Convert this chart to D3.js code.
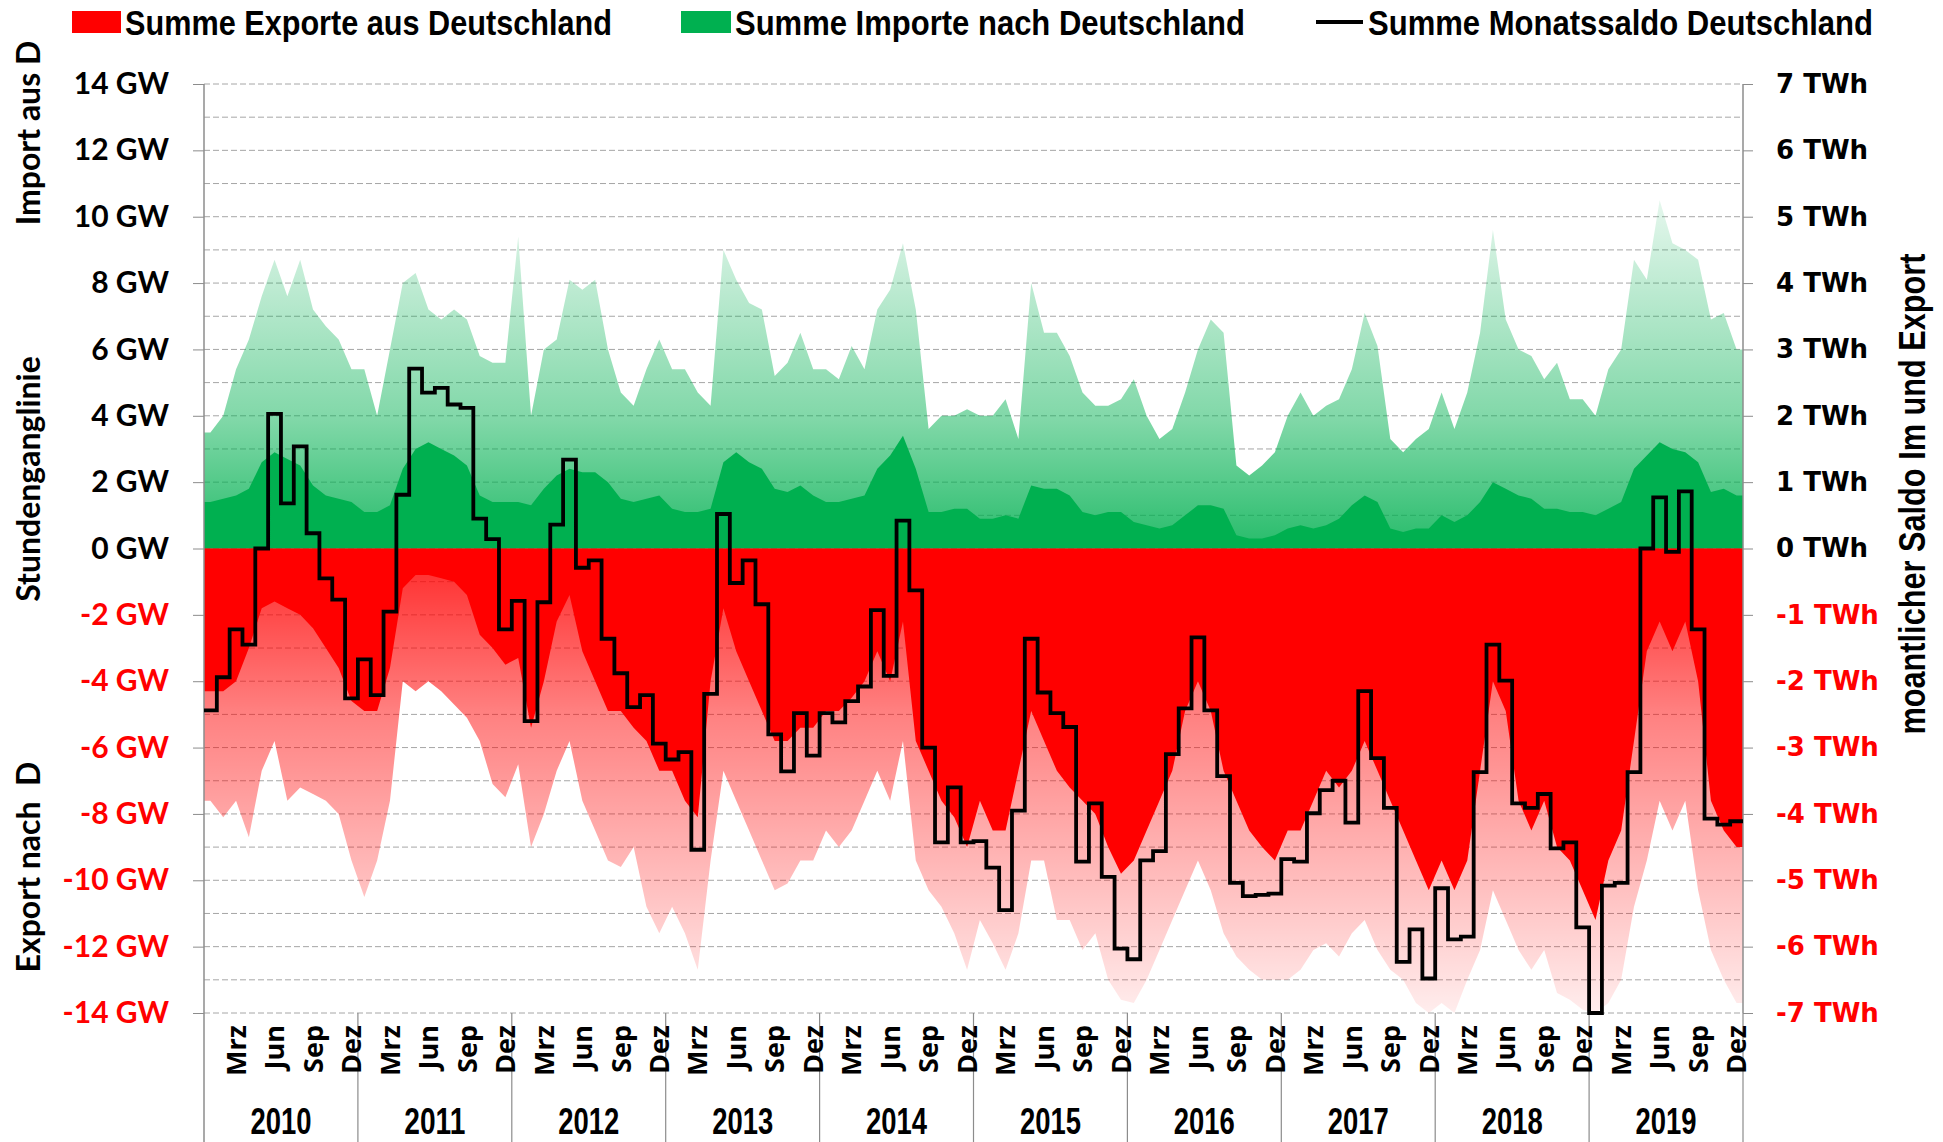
<!DOCTYPE html>
<html>
<head>
<meta charset="utf-8">
<script src="https://cdn.jsdelivr.net/npm/d3@7"></script>
<style>
body { margin: 0; background: #fff; }
svg { display: block; }
</style>
</head>
<body>
<div id="chart"></div>
<script>
// ---- data ----
const years = [2010, 2011, 2012, 2013, 2014, 2015, 2016, 2017, 2018, 2019];
const monthTickIndex = [2, 5, 8, 11];
const monthTickLabels = ['Mrz', 'Jun', 'Sep', 'Dez'];
const gwTicks = [-14, -12, -10, -8, -6, -4, -2, 0, 2, 4, 6, 8, 10, 12, 14];
const twhTicks = [-7, -6, -5, -4, -3, -2, -1, 0, 1, 2, 3, 4, 5, 6, 7];

// monthly saldo in TWh (Jan 2010 .. Dez 2019)
const saldo = [
  -2.44, -1.94, -1.22, -1.45, 0.0, 2.03, 0.68, 1.54, 0.23, -0.45, -0.77, -2.26,
  -1.67, -2.21, -0.95, 0.81, 2.71, 2.35, 2.42, 2.17, 2.12, 0.45, 0.14, -1.22,
  -0.79, -2.6, -0.81, 0.36, 1.34, -0.29, -0.18, -1.36, -1.88, -2.39, -2.21, -2.94,
  -3.18, -3.07, -4.54, -2.19, 0.52, -0.52, -0.18, -0.84, -2.8, -3.36, -2.48, -3.12,
  -2.48, -2.62, -2.3, -2.08, -0.93, -1.92, 0.42, -0.63, -3.0, -4.43, -3.6, -4.43,
  -4.41, -4.81, -5.45, -3.95, -1.36, -2.17, -2.48, -2.69, -4.72, -3.84, -4.95, -6.03,
  -6.19, -4.7, -4.56, -3.1, -2.41, -1.34, -2.44, -3.43, -5.04, -5.24, -5.22, -5.2,
  -4.68, -4.72, -3.99, -3.64, -3.5, -4.13, -2.15, -3.16, -3.91, -6.23, -5.74, -6.48,
  -5.12, -5.89, -5.85, -3.37, -1.45, -1.99, -3.84, -3.91, -3.7, -4.52, -4.43, -5.71,
  -7.0, -5.08, -5.04, -3.37, 0.0, 0.77, -0.05, 0.86, -1.22, -4.07, -4.16, -4.11
];

// hourly import, dense level per month (GW)
const importCore = [
  1.4, 1.5, 1.6, 1.8, 2.6, 2.9, 2.7, 2.5, 1.9, 1.6, 1.5, 1.4,
  1.1, 1.1, 1.3, 2.4, 3.0, 3.2, 3.0, 2.8, 2.5, 1.6, 1.4, 1.4,
  1.4, 1.3, 1.8, 2.2, 2.4, 2.3, 2.3, 2.0, 1.5, 1.4, 1.5, 1.6,
  1.2, 1.1, 1.1, 1.2, 2.6, 2.9, 2.6, 2.4, 1.8, 1.7, 1.9, 1.6,
  1.4, 1.4, 1.5, 1.6, 2.4, 2.8, 3.4, 2.4, 1.1, 1.1, 1.2, 1.2,
  0.9, 0.9, 1.0, 0.9, 1.9, 1.8, 1.8, 1.6, 1.1, 1.0, 1.1, 1.1,
  0.8, 0.7, 0.6, 0.7, 1.0, 1.3, 1.3, 1.2, 0.4, 0.3, 0.3, 0.4,
  0.6, 0.7, 0.6, 0.7, 0.9, 1.3, 1.6, 1.4, 0.6, 0.5, 0.6, 0.6,
  1.0, 0.8, 1.0, 1.4, 2.0, 1.8, 1.6, 1.5, 1.2, 1.2, 1.1, 1.1,
  1.0, 1.2, 1.4, 2.4, 2.8, 3.2, 3.0, 2.9, 2.6, 1.7, 1.8, 1.6
];
// hourly import, highest spikes per month (GW)
const importPeak = [
  3.5, 4.0, 5.4, 6.3, 7.6, 8.7, 7.6, 8.7, 7.2, 6.7, 6.3, 5.4,
  5.4, 4.0, 6.0, 8.0, 8.3, 7.2, 6.9, 7.2, 6.9, 5.8, 5.6, 5.6,
  9.4, 4.0, 6.0, 6.3, 8.1, 7.8, 8.1, 6.0, 4.7, 4.3, 5.4, 6.3,
  5.4, 5.4, 4.7, 4.3, 9.0, 8.1, 7.4, 7.2, 5.2, 5.6, 6.5, 5.4,
  5.4, 5.1, 6.1, 5.4, 7.2, 7.8, 9.2, 7.2, 3.6, 4.0, 4.0, 4.2,
  4.0, 4.0, 4.5, 3.3, 8.0, 6.5, 6.5, 5.8, 4.7, 4.3, 4.3, 4.5,
  5.1, 4.0, 3.3, 3.6, 4.7, 6.0, 6.9, 6.5, 2.5, 2.2, 2.5, 2.9,
  4.0, 4.7, 4.0, 4.3, 4.5, 5.4, 7.1, 6.1, 3.3, 2.9, 3.3, 3.6,
  4.7, 3.6, 4.7, 6.5, 9.6, 6.9, 6.0, 5.8, 5.1, 5.6, 4.5, 4.5,
  4.0, 5.4, 6.0, 8.7, 8.1, 10.5, 9.2, 9.0, 8.7, 6.9, 7.1, 6.0
];
// hourly export, dense level per month (GW)
const exportCore = [
  -4.3, -4.3, -4.0, -3.0, -1.8, -1.6, -1.8, -2.0, -2.4, -3.0, -3.6, -4.6,
  -4.9, -4.9, -3.6, -1.2, -0.8, -0.8, -0.9, -1.0, -1.4, -2.6, -3.0, -3.5,
  -3.3, -5.4, -4.0, -2.2, -1.4, -3.1, -4.0, -4.9, -4.9, -5.4, -5.8, -6.7,
  -6.7, -7.6, -8.1, -4.0, -1.8, -3.1, -4.0, -4.9, -5.8, -5.8, -5.4, -5.4,
  -4.9, -4.9, -4.5, -4.0, -3.1, -4.0, -2.2, -5.8, -6.7, -7.6, -8.1, -9.0,
  -7.6, -8.5, -8.5, -6.7, -4.9, -5.8, -6.7, -7.2, -7.6, -8.0, -9.0, -9.8,
  -9.4, -8.5, -7.6, -6.7, -4.9, -4.0, -4.9, -6.7, -7.6, -8.5, -9.0, -9.4,
  -8.5, -8.5, -7.6, -6.7, -7.2, -6.7, -5.8, -6.7, -7.6, -8.5, -9.4, -10.3,
  -9.4, -10.3, -9.4, -6.7, -4.0, -4.9, -7.6, -8.5, -7.6, -9.0, -9.4, -10.3,
  -11.2, -9.4, -8.5, -5.8, -3.1, -2.2, -3.1, -2.2, -4.0, -7.6, -8.5, -9.0
];
// hourly export, deepest spikes per month (GW)
const exportPeak = [
  -7.6, -8.1, -7.6, -8.7, -6.7, -5.8, -7.6, -7.2, -7.4, -7.6, -8.0, -9.4,
  -10.5, -9.4, -7.6, -4.0, -4.3, -4.0, -4.3, -4.7, -5.1, -5.8, -7.1, -7.5,
  -6.5, -9.0, -8.0, -6.7, -5.8, -7.6, -8.5, -9.4, -9.6, -9.0, -10.8, -11.6,
  -10.8, -11.6, -12.7, -9.4, -6.7, -7.6, -8.5, -9.4, -10.3, -10.1, -9.4, -9.4,
  -8.5, -9.0, -8.5, -7.6, -6.7, -7.6, -5.8, -9.4, -10.3, -10.8, -11.6, -12.7,
  -11.2, -11.9, -12.7, -11.6, -9.4, -9.4, -11.2, -11.2, -12.1, -11.6, -13.0, -13.6,
  -13.7, -13.0, -12.1, -11.2, -10.3, -9.4, -10.3, -11.6, -12.3, -12.7, -13.0, -13.0,
  -13.0, -12.7, -12.1, -11.9, -12.3, -11.6, -11.2, -12.1, -12.7, -13.0, -13.7, -14.0,
  -13.7, -14.0, -13.0, -12.1, -10.3, -11.2, -12.1, -12.7, -12.1, -13.4, -13.6, -13.9,
  -14.0, -13.7, -13.0, -10.8, -9.4, -7.6, -8.5, -7.6, -10.3, -12.1, -13.0, -13.7
];

// ---- layout ----
const WIDTH = 1943;
const HEIGHT = 1142;
const LEFT = 204, RIGHT = 1743, TOP = 84, BOTTOM = 1013;
const RED = '#ff0000';
const GREEN = '#00b050';
const GRID = '#a6a6a6';
const AXIS = '#8c8c8c';
const NARROW = '"Liberation Sans", Arial, sans-serif';

const svg = d3.select('#chart').append('svg')
    .attr('width', WIDTH)
    .attr('height', HEIGHT);

const x = d3.scaleLinear().domain([0, 120]).range([LEFT, RIGHT]);
const y = d3.scaleLinear().domain([-14, 14]).range([BOTTOM, TOP]);
const yR = d3.scaleLinear().domain([-7, 7]).range([BOTTOM, TOP]);

// gradients for the hourly spikes
const defs = svg.append('defs');
function fade(id, color, to) {
    const g = defs.append('linearGradient')
        .attr('id', id)
        .attr('gradientUnits', 'userSpaceOnUse')
        .attr('x1', 0).attr('x2', 0)
        .attr('y1', y(0)).attr('y2', y(to));
    g.append('stop').attr('offset', 0).attr('stop-color', color).attr('stop-opacity', 0.85);
    g.append('stop').attr('offset', 0.35).attr('stop-color', color).attr('stop-opacity', 0.5);
    g.append('stop').attr('offset', 1).attr('stop-color', color).attr('stop-opacity', 0.07);
}
fade('impFade', GREEN, 11);
fade('expFade', RED, -14);

// grid lines every 1 GW
svg.append('g')
    .selectAll('line')
    .data(d3.range(-14, 15, 1))
    .join('line')
    .attr('x1', LEFT).attr('x2', RIGHT)
    .attr('y1', d => y(d)).attr('y2', d => y(d))
    .attr('stroke', GRID)
    .attr('stroke-width', 1)
    .attr('stroke-dasharray', '6,3');

// areas
function monthPoints(arr) {
    const pts = arr.map((v, i) => [i + 0.5, v]);
    pts.unshift([0, arr[0]]);
    pts.push([120, arr[arr.length - 1]]);
    return pts;
}
const area = d3.area()
    .x(d => x(d[0]))
    .y0(y(0))
    .y1(d => y(d[1]));

svg.append('path').attr('d', area(monthPoints(importPeak))).attr('fill', 'url(#impFade)');
svg.append('path').attr('d', area(monthPoints(exportPeak))).attr('fill', 'url(#expFade)');
svg.append('path').attr('d', area(monthPoints(importCore))).attr('fill', GREEN);
svg.append('path').attr('d', area(monthPoints(exportCore))).attr('fill', RED);

// left axis
const leftAxis = svg.append('g')
    .attr('transform', 'translate(' + LEFT + ',0)')
    .call(d3.axisLeft(y).tickValues(gwTicks).tickSize(11).tickSizeOuter(0).tickPadding(24)
        .tickFormat(d => d + ' GW'));
leftAxis.select('.domain').remove();
leftAxis.selectAll('line').attr('stroke', AXIS);
leftAxis.selectAll('text')
    .attr('font-family', 'Lato, sans-serif')
    .attr('font-weight', 'bold')
    .attr('font-size', 30)
    .attr('fill', d => d < 0 ? RED : '#000');

// right axis
const rightAxis = svg.append('g')
    .attr('transform', 'translate(' + RIGHT + ',0)')
    .call(d3.axisRight(yR).tickValues(twhTicks).tickSize(10).tickSizeOuter(0).tickPadding(23)
        .tickFormat(d => d + ' TWh'));
rightAxis.select('.domain').remove();
rightAxis.selectAll('line').attr('stroke', AXIS);
rightAxis.selectAll('text')
    .attr('font-family', '"DejaVu Sans", sans-serif')
    .attr('font-weight', 'bold')
    .attr('font-size', 26)
    .attr('fill', d => d < 0 ? RED : '#000');

// axis lines
svg.append('line').attr('x1', LEFT).attr('x2', LEFT).attr('y1', TOP).attr('y2', HEIGHT)
    .attr('stroke', AXIS).attr('stroke-width', 1.5);
svg.append('line').attr('x1', RIGHT).attr('x2', RIGHT).attr('y1', TOP).attr('y2', BOTTOM)
    .attr('stroke', AXIS).attr('stroke-width', 1.5);

// category axis: year separators, month labels, year labels
svg.append('g')
    .selectAll('line')
    .data(d3.range(1, years.length + 1))
    .join('line')
    .attr('x1', d => x(d * 12)).attr('x2', d => x(d * 12))
    .attr('y1', BOTTOM).attr('y2', HEIGHT)
    .attr('stroke', AXIS).attr('stroke-width', 1.2);

const monthG = svg.append('g');
years.forEach((yr, k) => {
    monthTickIndex.forEach((m, j) => {
        monthG.append('text')
            .attr('transform', 'translate(' + x(k * 12 + m + 0.5) + ',1025) rotate(-90)')
            .attr('text-anchor', 'end')
            .attr('dy', '0.36em')
            .attr('font-family', '"Open Sans", sans-serif')
            .attr('font-weight', 'bold')
            .attr('font-size', 27)
            .text(monthTickLabels[j]);
    });
});

svg.append('g')
    .selectAll('text')
    .data(years)
    .join('text')
    .attr('x', (d, k) => x(k * 12 + 6))
    .attr('y', 1134)
    .attr('text-anchor', 'middle')
    .attr('font-family', NARROW)
    .attr('font-weight', 'bold')
    .attr('font-size', 36)
    .attr('textLength', 61)
    .attr('lengthAdjust', 'spacingAndGlyphs')
    .text(d => d);

// monthly saldo step line
const saldoPts = saldo.map((v, i) => [i, v]);
saldoPts.push([120, saldo[saldo.length - 1]]);
svg.append('path')
    .attr('d', d3.line().x(d => x(d[0])).y(d => yR(d[1])).curve(d3.curveStepAfter)(saldoPts))
    .attr('fill', 'none')
    .attr('stroke', '#000')
    .attr('stroke-width', 3.8);

// axis titles
const leftTitles = [['Import aus D', 133], ['Stundenganglinie', 479], ['Export nach  D', 867]];
leftTitles.forEach(t => {
    svg.append('text')
        .attr('transform', 'translate(28,' + t[1] + ') rotate(-90)')
        .attr('text-anchor', 'middle')
        .attr('dy', '0.36em')
        .attr('font-family', 'Lato, sans-serif')
        .attr('font-weight', 'bold')
        .attr('font-size', 32)
        .style('white-space', 'pre')
        .text(t[0]);
});
svg.append('text')
    .attr('transform', 'translate(1912,494) rotate(-90)')
    .attr('text-anchor', 'middle')
    .attr('dy', '0.36em')
    .attr('font-family', NARROW)
    .attr('font-weight', 'bold')
    .attr('font-size', 36)
    .attr('textLength', 481)
    .attr('lengthAdjust', 'spacingAndGlyphs')
    .text('moantlicher Saldo Im und Export');

// legend
const legend = svg.append('g');
legend.append('rect').attr('x', 72).attr('y', 11).attr('width', 49).attr('height', 22).attr('fill', RED);
legend.append('rect').attr('x', 681).attr('y', 11).attr('width', 50).attr('height', 22).attr('fill', GREEN);
legend.append('line').attr('x1', 1316).attr('x2', 1363).attr('y1', 22).attr('y2', 22)
    .attr('stroke', '#000').attr('stroke-width', 4);
const legendItems = [[125, 'Summe Exporte aus Deutschland', 487], [735, 'Summe Importe nach Deutschland', 510],
    [1368, 'Summe Monatssaldo Deutschland', 505]];
legendItems.forEach(l => {
    legend.append('text')
        .attr('x', l[0]).attr('y', 35)
        .attr('font-family', NARROW)
        .attr('font-weight', 'bold')
        .attr('font-size', 35)
        .attr('textLength', l[2])
        .attr('lengthAdjust', 'spacingAndGlyphs')
        .text(l[1]);
});
</script>
</body>
</html>
